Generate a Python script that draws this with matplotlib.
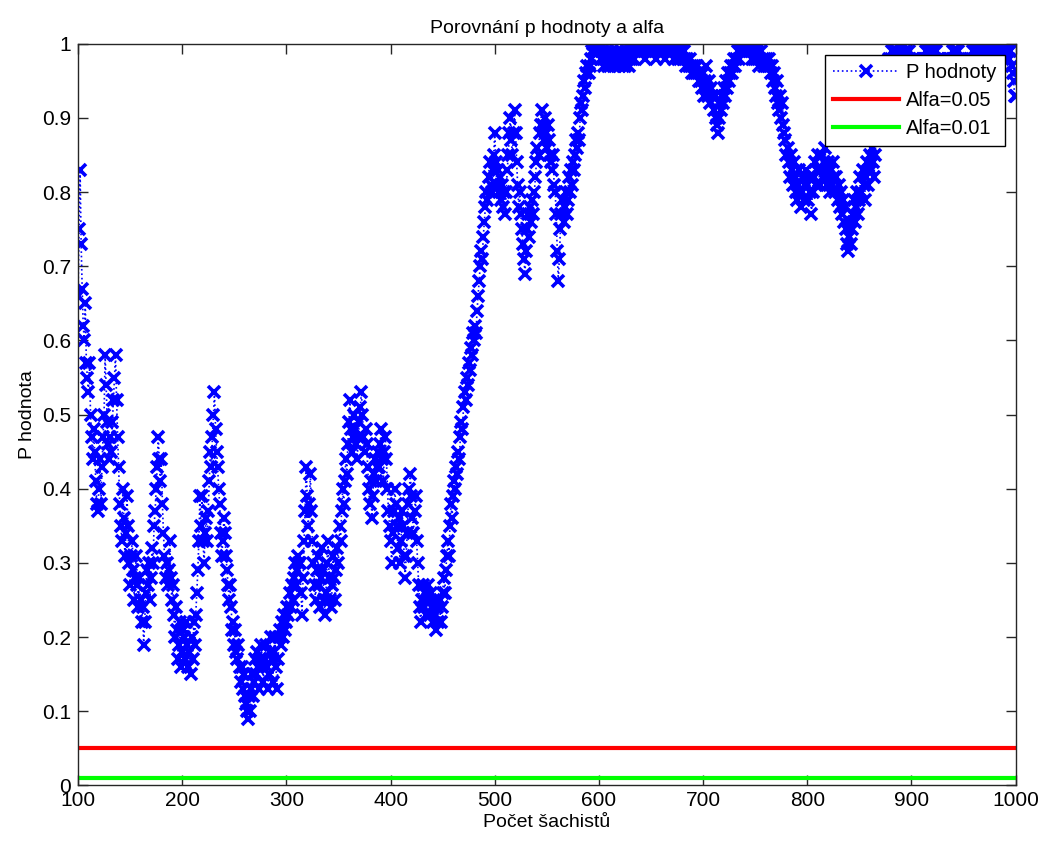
import numpy as np
import matplotlib
matplotlib.use("Agg")
import matplotlib.pyplot as plt

# p-values, one per chess-player count (100 ... 1000)
p_100 = [
    .66, .75, .83, .73, .67, .62, .60, .65, .57, .55,
    .53, .57, .50, .47, .44, .48, .45, .41, .38, .37,
    .40, .44, .38, .43, .47, .50, .58, .54, .49, .46,
    .44, .47, .45, .49, .52, .55, .58, .52, .47, .43,
    .38, .35, .33, .40, .36, .31, .34, .39, .35, .30,
    .27, .31, .33, .29, .25, .28, .31, .27, .24, .28,
    .25, .22, .24, .19, .22, .26, .29, .27, .30, .25,
    .28, .32, .30, .35, .37, .40, .43, .47, .44, .41,
    .44, .38, .34, .31, .28, .30, .27, .29, .33, .28,
    .25, .27, .23, .20, .24, .21, .17, .19, .22, .16,
]
p_200 = [
    .18, .21, .20, .17, .22, .19, .16, .18, .15, .20,
    .17, .22, .19, .23, .26, .29, .33, .39, .35, .39,
    .33, .30, .34, .36, .33, .37, .41, .45, .43, .47,
    .50, .53, .48, .45, .43, .40, .38, .34, .31, .33,
    .36, .34, .31, .29, .27, .25, .27, .24, .21, .22,
    .19, .21, .18, .17, .19, .16, .14, .16, .13, .15,
    .12, .11, .10, .09, .12, .10, .13, .15, .12, .14,
    .17, .15, .18, .16, .13, .17, .19, .16, .14, .17,
    .19, .16, .13, .15, .18, .20, .17, .14, .18, .20,
    .16, .13, .17, .20, .21, .19, .22, .20, .23, .21,
]
p_300 = [
    .22, .24, .23, .26, .24, .27, .25, .28, .30, .27,
    .29, .31, .30, .30, .26, .23, .28, .33, .37, .43,
    .39, .35, .38, .42, .37, .33, .30, .27, .25, .29,
    .31, .27, .24, .28, .32, .29, .25, .23, .26, .30,
    .33, .28, .25, .24, .27, .31, .28, .25, .29, .32,
    .30, .35, .33, .37, .40, .38, .41, .44, .42, .46,
    .49, .52, .48, .45, .47, .50, .48, .46, .44, .47,
    .49, .51, .53, .50, .47, .45, .48, .46, .43, .40,
    .38, .41, .36, .39, .42, .44, .41, .43, .45, .43,
    .46, .48, .44, .41, .45, .47, .44, .40, .37, .35,
]
p_400 = [
    .33, .30, .34, .37, .40, .38, .35, .32, .36, .30,
    .33, .37, .35, .31, .28, .31, .34, .38, .40, .42,
    .39, .36, .34, .37, .39, .33, .30, .27, .24, .22,
    .25, .27, .24, .26, .23, .25, .27, .25, .23, .26,
    .24, .22, .25, .23, .21, .24, .22, .25, .22, .24,
    .26, .28, .26, .29, .31, .33, .31, .35, .38, .36,
    .39, .41, .40, .43, .42, .45, .44, .47, .49, .48,
    .51, .53, .52, .55, .54, .57, .56, .59, .58, .61,
    .60, .62, .61, .64, .66, .68, .70, .72, .71, .74,
    .76, .78, .80, .79, .82, .84, .81, .80, .83, .85,
]
p_500 = [
    .88, .84, .81, .83, .80, .82, .79, .81, .78, .80,
    .77, .80, .83, .85, .88, .90, .87, .85, .88, .91,
    .88, .84, .81, .78, .80, .77, .75, .73, .71, .69,
    .72, .75, .77, .74, .78, .76, .79, .77, .80, .82,
    .84, .86, .85, .88, .89, .91, .89, .87, .90, .88,
    .86, .89, .87, .85, .84, .83, .85, .81, .80, .77,
    .72, .68, .71, .75, .77, .79, .76, .78, .80, .77,
    .79, .82, .80, .83, .81, .84, .83, .85, .87, .86,
    .88, .87, .90, .92, .91, .93, .95, .94, .96, .97,
    .96, .97, .98, .99, 1.0, .99, 1.0, 1.0, .99, 1.0,
]
p_600 = [
    .99, 1.0, .98, .99, .98, .97, .98, .99, .98, .97,
    .98, .97, .98, .99, .98, .97, .98, .99, .98, .97,
    .98, .99, .98, .97, .98, .97, .98, .99, .98, .97,
    .98, .99, .98, .99, .98, .99, 1.0, .99, 1.0, .99,
    1.0, .99, 1.0, .99, .98, .99, 1.0, .99, 1.0, .99,
    1.0, 1.0, .99, 1.0, .99, .98, .99, 1.0, .99, 1.0,
    .99, 1.0, .99, .98, .99, 1.0, .99, 1.0, .99, .99,
    1.0, .99, .98, .99, 1.0, .99, .98, .99, .98, .99,
    .99, .98, .99, .98, .97, .98, .97, .98, .97, .96,
    .97, .96, .97, .96, .97, .96, .95, .96, .95, .94,
]
p_700 = [
    .96, .93, .95, .97, .94, .93, .95, .92, .94, .93,
    .91, .93, .90, .89, .88, .90, .92, .91, .93, .92,
    .94, .93, .95, .94, .96, .95, .96, .97, .96, .97,
    .98, .97, .98, .99, .98, .99, 1.0, .99, 1.0, .99,
    1.0, 1.0, .99, 1.0, .99, 1.0, .99, .98, .99, .98,
    .99, .98, .99, .98, .97, .98, .99, .98, .97, .98,
    .97, .98, .97, .98, .97, .96, .97, .95, .96, .94,
    .93, .95, .92, .91, .93, .90, .92, .89, .88, .87,
    .85, .86, .84, .82, .85, .83, .81, .84, .82, .80,
    .79, .81, .83, .80, .78, .80, .82, .79, .81, .83,
]
p_800 = [
    .81, .79, .82, .80, .77, .80, .82, .84, .81, .83,
    .85, .83, .81, .83, .85, .82, .84, .86, .83, .81,
    .84, .82, .80, .83, .81, .84, .82, .80, .82, .79,
    .81, .78, .80, .77, .79, .76, .78, .75, .73, .72,
    .74, .76, .73, .75, .77, .79, .76, .78, .80, .77,
    .79, .82, .80, .83, .81, .79, .82, .84, .81, .83,
    .85, .83, .86, .84, .82, .85, .87, .88, .89, .91,
    .90, .92, .93, .95, .94, .96, .97, .96, .98, .97,
    .98, .99, .99, .98, .99, .98, .99, .98, .97, .98,
    .99, .98, .97, .98, .99, .98, .97, .98, .99, .98,
]
p_900 = [
    .97, .98, .97, .98, .97, .98, .97, .98, .97, .96,
    .97, .98, .97, .98, .99, .99, .98, .99, .99, .98,
    .99, .99, .99, .98, .99, .98, .97, .98, .97, .96,
    .97, .98, .97, .96, .97, .98, .97, .98, .97, .98,
    .99, .98, .99, .99, .98, .99, .98, .97, .98, .97,
    .96, .97, .98, .97, .96, .97, .98, .97, .98, .99,
    .98, .99, .99, .98, .99, 1.0, .99, .98, .99, .99,
    .98, .99, .98, .97, .98, .99, .98, .99, .99, .98,
    .99, 1.0, .99, .98, .99, 1.0, .99, .99, .98, .99,
    1.0, .99, 1.0, .99, .98, .99, .97, .96, .95, .93,
    .93,
]

p_values = np.array(p_100 + p_200 + p_300 + p_400 + p_500
                    + p_600 + p_700 + p_800 + p_900)
players = np.arange(100, 100 + len(p_values))
alpha_05 = 0.05
alpha_01 = 0.01

plt.rcParams["font.family"] = ["Liberation Sans", "DejaVu Sans"]

fig = plt.figure(figsize=(10.43, 8.41), dpi=100)
ax = fig.add_axes([0.0748, 0.066, 0.899, 0.882])

ax.plot(players, p_values, color="#0000ff", linestyle=":", linewidth=1.2,
        marker="x", markersize=8, markeredgewidth=2.6, label="P hodnoty")
ax.axhline(alpha_05, color="#ff0000", linewidth=3, label="Alfa=0.05")
ax.axhline(alpha_01, color="#00ff00", linewidth=3, label="Alfa=0.01")

ax.set_xlim(100, 1000)
ax.set_ylim(0, 1)
ax.set_xticks(np.arange(100, 1001, 100))
ax.set_yticks(np.arange(0, 1.01, 0.1))
ax.set_yticklabels(["0"] + [f"{v:.1f}" for v in np.arange(0.1, 0.95, 0.1)] + ["1"])
ax.tick_params(direction="in", length=7, width=1, top=True, right=True,
               labelsize=15, colors="#262626", labelcolor="black")
ax.tick_params(axis="x", pad=4)
ax.tick_params(axis="y", pad=5)
for spine in ax.spines.values():
    spine.set_color("#262626")
    spine.set_linewidth(1)

ax.set_title("Porovnání p hodnoty a alfa", fontsize=14, pad=8)
ax.set_xlabel("Počet šachistů", fontsize=14, labelpad=3)
ax.set_ylabel("P hodnota", fontsize=14, labelpad=4)

leg = ax.legend(loc="upper right", fontsize=14.5, fancybox=False,
                framealpha=1, edgecolor="black", borderaxespad=0.55,
                handlelength=3.3, handletextpad=0.35, borderpad=0.4,
                labelspacing=0.45)
leg.get_frame().set_linewidth(1)

fig.savefig("out.png", dpi=100)
